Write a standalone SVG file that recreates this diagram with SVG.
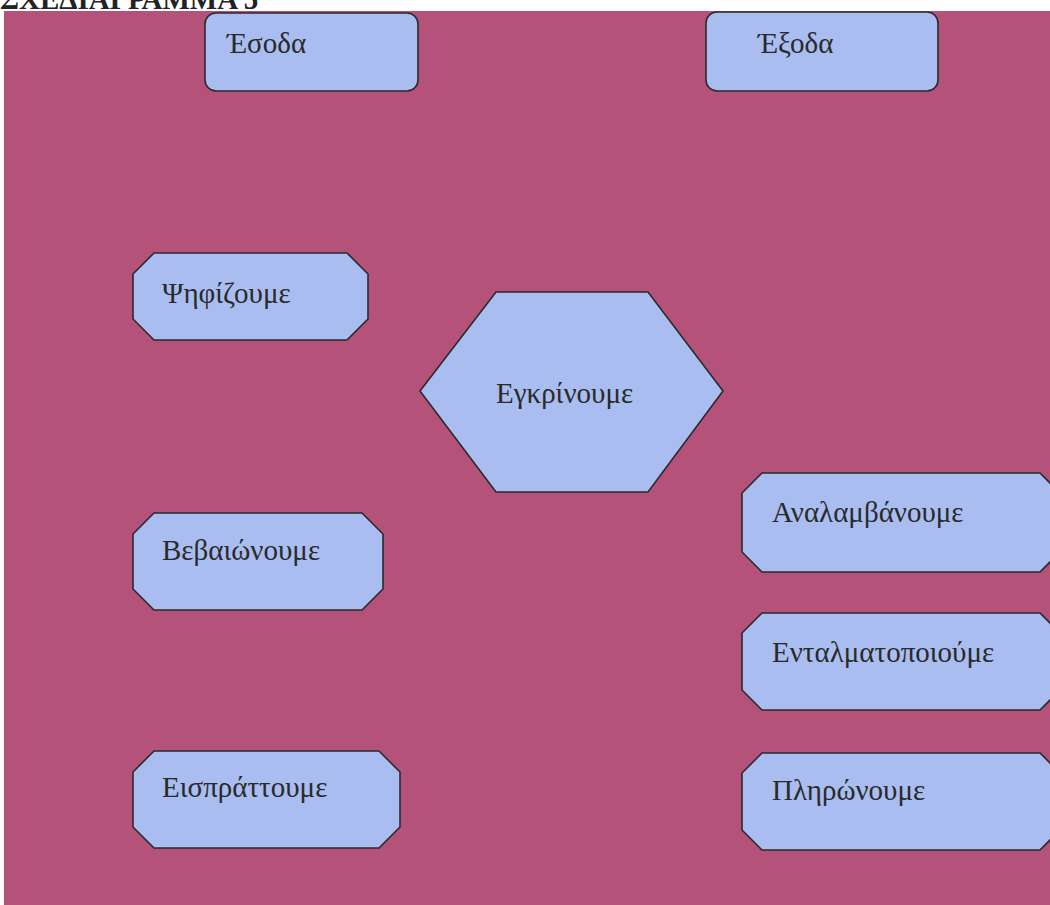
<svg xmlns="http://www.w3.org/2000/svg" width="1050" height="905" viewBox="0 0 1050 905">
<defs>
<style>
.bg{fill:#b5527a}
.box{fill:#a9bdf0;stroke:#2a2a2a;stroke-width:1.6}
.lbl{font-family:"Liberation Serif","Times New Roman",serif;font-size:29px;fill:#2a2a2a}
.title{font-family:"Liberation Serif","Times New Roman",serif;font-size:29px;font-weight:bold;fill:#222}
</style>
</defs>
<rect x="0" y="0" width="1050" height="905" fill="#ffffff"/>
<text class="title" x="0" y="9">ΣΧΕΔΙΑΓΡΑΜΜΑ 5</text>
<rect class="bg" x="4" y="11" width="1046" height="894"/>
<g id="connectors"></g>
<g id="esoda">
<rect class="box" x="205" y="13" width="213" height="78" rx="11"/>
<text class="lbl" x="227" y="53">Έσοδα</text>
</g>
<g id="exoda">
<rect class="box" x="706" y="12" width="232" height="79" rx="11"/>
<text class="lbl" x="758" y="53">Έξοδα</text>
</g>
<g id="psifizoume">
<polygon class="box" points="154,253 347,253 368,274 368,319 347,340 154,340 133,319 133,274"/>
<text class="lbl" x="162" y="303">Ψηφίζουμε</text>
</g>
<g id="egkrinoume">
<polygon class="box" points="420,391 496,292 648,292 723,391 648,492 496,492"/>
<text class="lbl" x="496" y="403">Εγκρίνουμε</text>
</g>
<g id="vevaionoume">
<polygon class="box" points="154,513 362,513 383,534 383,589 362,610 154,610 133,589 133,534"/>
<text class="lbl" x="162" y="560">Βεβαιώνουμε</text>
</g>
<g id="eispratoume">
<polygon class="box" points="154,751 379,751 400,772 400,827 379,848 154,848 133,827 133,772"/>
<text class="lbl" x="162" y="797">Εισπράττουμε</text>
</g>
<g id="analamvanoume">
<polygon class="box" points="762,473 1040,473 1060,493 1060,552 1040,572 762,572 742,552 742,493"/>
<text class="lbl" x="772" y="522">Αναλαμβάνουμε</text>
</g>
<g id="entalmatopoioume">
<polygon class="box" points="762,613 1040,613 1060,633 1060,690 1040,710 762,710 742,690 742,633"/>
<text class="lbl" x="772" y="662">Ενταλματοποιούμε</text>
</g>
<g id="pleronoume">
<polygon class="box" points="762,753 1040,753 1060,773 1060,830 1040,850 762,850 742,830 742,773"/>
<text class="lbl" x="772" y="800">Πληρώνουμε</text>
</g>
</svg>
